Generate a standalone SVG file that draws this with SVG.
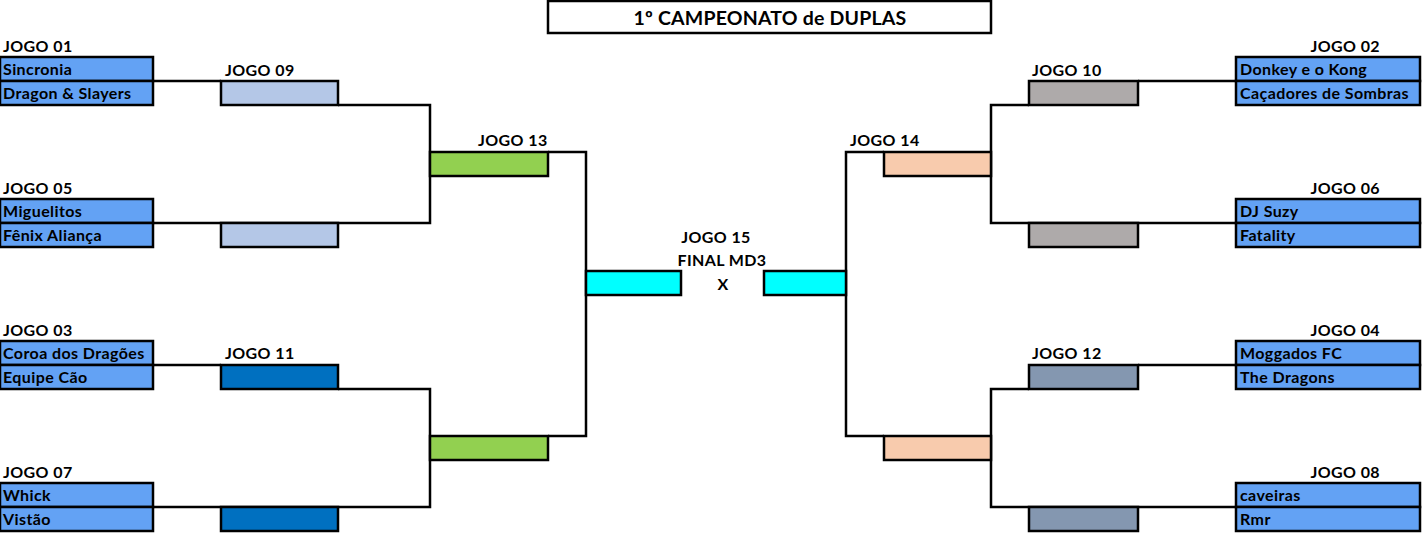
<svg xmlns="http://www.w3.org/2000/svg" width="1425" height="537" viewBox="0 0 1425 537">
<style>
text{font-family:Lato,"Open Sans","Liberation Sans",sans-serif;font-weight:bold;font-size:16px;letter-spacing:0.4px;fill:#000}
.title{font-size:19.5px;letter-spacing:0.2px}
.b{stroke:#000;stroke-width:2.5}
.team{fill:#63A2F4}
.lb{fill:#B4C7E7}
.gr{fill:#92D050}
.cy{fill:#00FFFF}
.db{fill:#0070C0}
.pe{fill:#F8CBAD}
.gy{fill:#AEAAAA}
.gb{fill:#8497B0}
.ln{fill:none;stroke:#000;stroke-width:2.5}
.r{text-anchor:end}
.m{text-anchor:middle}
</style>
<rect width="1425" height="537" fill="#fff"/>
<g id="title"><rect x="548" y="1" width="443" height="32" fill="#fff" class="b"/><text class="title m" x="770" y="25">1º CAMPEONATO de DUPLAS</text></g>

<g id="connectors">
<path class="ln" d="M153,81H221 M338,105H430V223H153"/>
<path class="ln" d="M153,365H221 M338,389H430V507H153"/>
<path class="ln" d="M548,152H586V436H548 M586,271V295"/>
<path class="ln" d="M1236,81H1138 M1029,105H991V223H1236"/>
<path class="ln" d="M1236,365H1138 M1029,389H991V507H1236"/>
<path class="ln" d="M884,152H846V436H884"/>
</g>

<g id="jogo01"><text x="3" y="52">JOGO 01</text>
<rect class="team b" x="0" y="57" width="153" height="24"/><rect class="team b" x="0" y="81" width="153" height="24"/>
<text x="3" y="75">Sincronia</text><text x="3" y="99">Dragon &amp; Slayers</text></g>
<g id="jogo05"><text x="3" y="194">JOGO 05</text>
<rect class="team b" x="0" y="199" width="153" height="24"/><rect class="team b" x="0" y="223" width="153" height="24"/>
<text x="3" y="217">Miguelitos</text><text x="3" y="241">Fênix Aliança</text></g>
<g id="jogo03"><text x="3" y="336">JOGO 03</text>
<rect class="team b" x="0" y="341" width="153" height="24"/><rect class="team b" x="0" y="365" width="153" height="24"/>
<text x="3" y="359">Coroa dos Dragões</text><text x="3" y="383">Equipe Cão</text></g>
<g id="jogo07"><text x="3" y="478">JOGO 07</text>
<rect class="team b" x="0" y="483" width="153" height="24"/><rect class="team b" x="0" y="507" width="153" height="24"/>
<text x="3" y="501">Whick</text><text x="3" y="525">Vistão</text></g>

<g id="jogo09"><text x="225" y="76">JOGO 09</text>
<rect class="lb b" x="221" y="81" width="117" height="24"/><rect class="lb b" x="221" y="223" width="117" height="24"/></g>
<g id="jogo11"><text x="225" y="359">JOGO 11</text>
<rect class="db b" x="221" y="365" width="117" height="24"/><rect class="db b" x="221" y="507" width="117" height="24"/></g>
<g id="jogo13"><text x="478" y="146">JOGO 13</text>
<rect class="gr b" x="430" y="152" width="118" height="24"/><rect class="gr b" x="430" y="436" width="118" height="24"/></g>

<g id="jogo15"><text class="m" x="716" y="243">JOGO 15</text><text class="m" x="722" y="266">FINAL MD3</text><text class="m" x="723" y="290">X</text>
<rect class="cy b" x="586" y="271" width="95" height="24"/><rect class="cy b" x="764" y="271" width="82" height="24"/></g>

<g id="jogo14"><text x="850" y="146">JOGO 14</text>
<rect class="pe b" x="884" y="152" width="107" height="24"/><rect class="pe b" x="884" y="436" width="107" height="24"/></g>
<g id="jogo10"><text x="1032" y="76">JOGO 10</text>
<rect class="gy b" x="1029" y="81" width="109" height="24"/><rect class="gy b" x="1029" y="223" width="109" height="24"/></g>
<g id="jogo12"><text x="1032" y="359">JOGO 12</text>
<rect class="gb b" x="1029" y="365" width="109" height="24"/><rect class="gb b" x="1029" y="507" width="109" height="24"/></g>

<g id="jogo02"><text class="r" x="1380" y="52">JOGO 02</text>
<rect class="team b" x="1236" y="57" width="184" height="24"/><rect class="team b" x="1236" y="81" width="184" height="24"/>
<text x="1240" y="75">Donkey e o Kong</text><text x="1240" y="99">Caçadores de Sombras</text></g>
<g id="jogo06"><text class="r" x="1380" y="194">JOGO 06</text>
<rect class="team b" x="1236" y="199" width="184" height="24"/><rect class="team b" x="1236" y="223" width="184" height="24"/>
<text x="1240" y="217">DJ Suzy</text><text x="1240" y="241">Fatality</text></g>
<g id="jogo04"><text class="r" x="1380" y="336">JOGO 04</text>
<rect class="team b" x="1236" y="341" width="184" height="24"/><rect class="team b" x="1236" y="365" width="184" height="24"/>
<text x="1240" y="359">Moggados FC</text><text x="1240" y="383">The Dragons</text></g>
<g id="jogo08"><text class="r" x="1380" y="478">JOGO 08</text>
<rect class="team b" x="1236" y="483" width="184" height="24"/><rect class="team b" x="1236" y="507" width="184" height="24"/>
<text x="1240" y="501">caveiras</text><text x="1240" y="525">Rmr</text></g>
</svg>
